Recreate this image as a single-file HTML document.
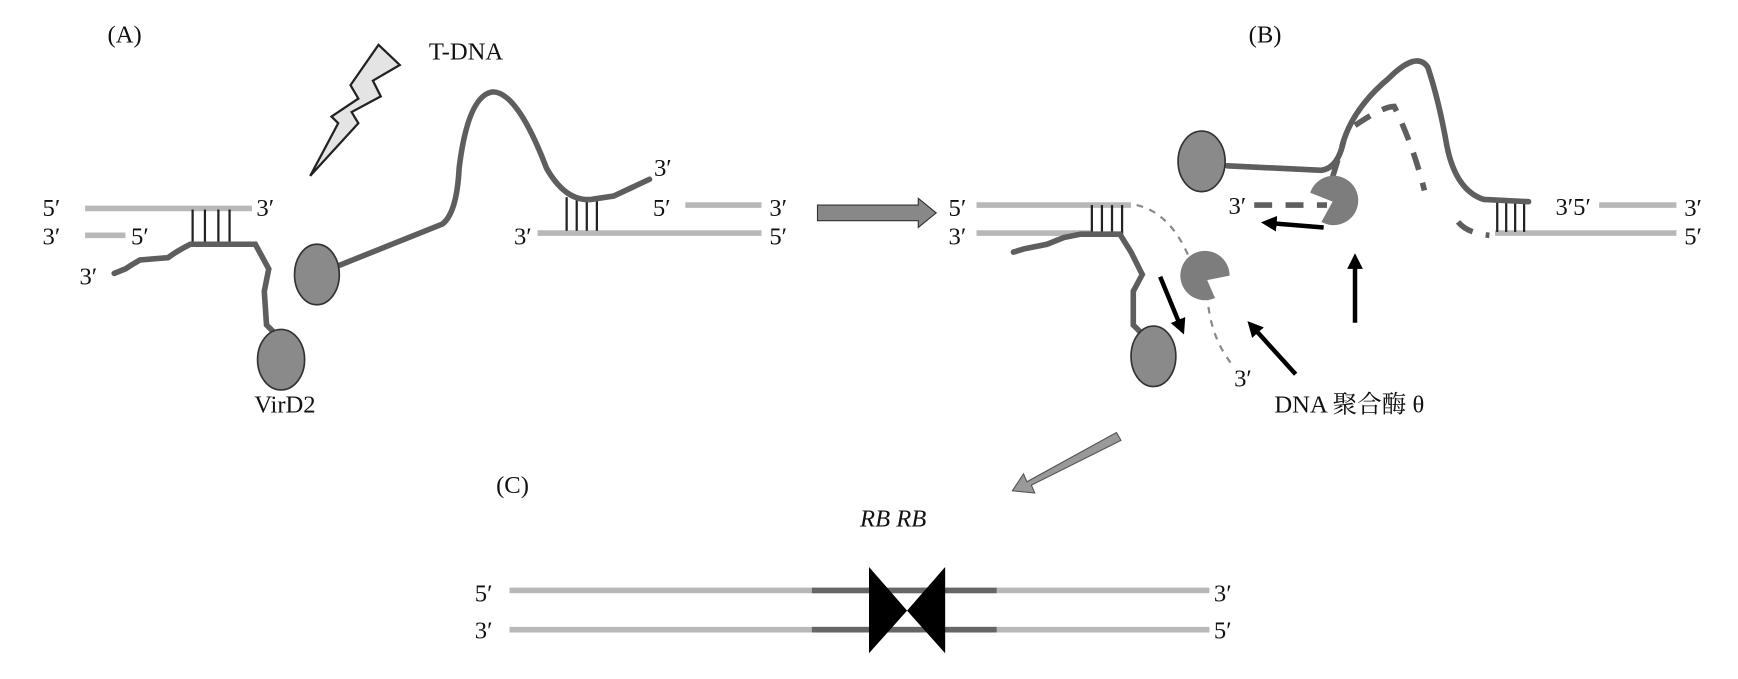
<!DOCTYPE html>
<html><head><meta charset="utf-8"><style>
html,body{margin:0;padding:0;background:#fff;}
svg{display:block;}
text{font-family:"Liberation Serif","Noto Serif CJK SC",serif;fill:#111;}
</style></head><body>
<svg width="1738" height="679" viewBox="0 0 1552 606" preserveAspectRatio="none" xmlns="http://www.w3.org/2000/svg">
<defs>
<marker id="ah" markerWidth="3.5" markerHeight="3.5" refX="2" refY="1.75" orient="auto" markerUnits="strokeWidth"><path d="M0,0 L3.5,1.75 L0,3.5 z" fill="#000"/></marker>
</defs>
<rect width="1552" height="606" fill="#fff"/>
<g font-size="22">
<text x="96" y="38">(A)</text>
<text x="1115" y="38">(B)</text>
<text x="443" y="440">(C)</text>
<text x="383" y="53">T-DNA</text>
<text x="227" y="368">VirD2</text>
<text x="1138" y="368">DNA 聚合酶 θ</text>
</g>
<!-- lightning -->
<path d="M338,40 L357,58 L333,72 L340,86 L314,100 L320,110 L277,157 L302,110 L296,104 L320,88 L313,76 Z" fill="#e4e4e4" stroke="#222" stroke-width="2"/>
<g font-size="22">
<text x="38" y="193">5′</text><text x="229" y="193">3′</text>
<text x="38" y="218">3′</text><text x="117" y="218">5′</text>
<text x="71" y="254">3′</text>
<text x="584" y="157">3′</text>
<text x="583" y="193">5′</text><text x="687" y="193">3′</text>
<text x="459" y="218">3′</text><text x="687" y="218">5′</text>
<text x="847" y="193">5′</text><text x="847" y="218">3′</text>
<text x="1097" y="191">3′</text>
<text x="1102" y="345">3′</text>
<text x="1389" y="192">3′5′</text>
<text x="1504" y="193">3′</text><text x="1504" y="218">5′</text>
<text x="424" y="537">5′</text><text x="1084" y="537">3′</text>
<text x="424" y="570">3′</text><text x="1084" y="570">5′</text>
<text x="768" y="470" font-style="italic">RB RB</text>
</g>
<g stroke="#b8b8b8" stroke-width="5" fill="none">
<line x1="76" y1="186" x2="225" y2="186"/>
<line x1="76" y1="210" x2="112" y2="210"/>
<line x1="612" y1="183" x2="680" y2="183"/>
<line x1="480" y1="208" x2="680" y2="208"/>
<line x1="872" y1="183" x2="1010" y2="183"/>
<line x1="872" y1="208" x2="975" y2="208"/>
<line x1="1428" y1="183" x2="1497" y2="183"/>
<line x1="1335" y1="208" x2="1497" y2="208"/>
<line x1="455" y1="527" x2="1080" y2="527"/>
<line x1="455" y1="562" x2="1080" y2="562"/>
</g>
<g stroke="#666" stroke-width="5"><line x1="725" y1="527" x2="890" y2="527"/><line x1="725" y1="562" x2="890" y2="562"/></g>
<!-- rungs -->
<g stroke="#222" stroke-width="2">
<line x1="172" y1="187" x2="172" y2="217"/><line x1="183" y1="187" x2="183" y2="217"/><line x1="195" y1="187" x2="195" y2="217"/><line x1="205" y1="187" x2="205" y2="217"/>
<line x1="506" y1="176" x2="506" y2="206"/><line x1="515" y1="176" x2="515" y2="206"/><line x1="524" y1="176" x2="524" y2="206"/><line x1="533" y1="176" x2="533" y2="206"/>
<line x1="975" y1="183" x2="975" y2="210"/><line x1="984" y1="183" x2="984" y2="210"/><line x1="993" y1="183" x2="993" y2="210"/><line x1="1002" y1="183" x2="1002" y2="210"/>
<line x1="1337" y1="180" x2="1337" y2="207"/><line x1="1345" y1="180" x2="1345" y2="207"/><line x1="1353" y1="180" x2="1353" y2="207"/><line x1="1361" y1="180" x2="1361" y2="207"/>
</g>
<g stroke="#5e5e5e" stroke-width="5" fill="none" stroke-linecap="round">
<path d="M102,244 L112,240 Q118,236 125,232 L150,230 Q158,224 170,218 L228,218 L240,240 L236,260 L238,290 L248,300"/>
<path d="M300,238 L395,200 Q408,190 410,150 Q418,85 440,82 Q462,82 488,150 Q505,180 528,178 L548,175 L580,160"/>
<path d="M905,225 L915,222 L935,218 L950,212 L965,209 L975,209 L1000,209 L1010,225 L1020,245 L1012,260 L1012,290 L1022,300"/>
<path d="M1096,148 L1180,152 Q1195,150 1200,125 Q1210,95 1240,70 Q1265,45 1275,60 Q1285,90 1292,130 Q1300,170 1325,178 L1365,180"/>
</g>
<g stroke="#5e5e5e" stroke-width="5" fill="none" stroke-dasharray="16,12">
<path d="M1120,183 L1185,183"/>
<path d="M1190,158 L1200,125"/>
<path d="M1210,112 Q1235,95 1245,95 Q1262,130 1272,170"/>
<path d="M1302,198 Q1310,208 1330,210"/>
</g>
<g stroke="#8a8a8a" stroke-width="2" fill="none" stroke-dasharray="6,6">
<path d="M1015,183 Q1045,190 1062,230"/>
<path d="M1078,262 Q1080,300 1100,325"/>
</g>
<g fill="#8a8a8a" stroke="#333" stroke-width="1.5">
<ellipse cx="251" cy="321" rx="21" ry="27"/>
<ellipse cx="283" cy="245" rx="20" ry="27"/>
<ellipse cx="1073" cy="144" rx="21" ry="27"/>
<ellipse cx="1030" cy="318" rx="20" ry="27"/>
</g>
<g fill="#7d7d7d">
<path d="M1190,180 L1170,172 A22,22 0 1 1 1180,198 Z"/>
<path d="M1078,250 L1085,266 A22,22 0 1 1 1098,246 Z"/>
</g>
<g stroke="#000" stroke-width="4" fill="none" marker-end="url(#ah)">
<line x1="1182" y1="203" x2="1132" y2="199"/>
<line x1="1210" y1="288" x2="1210" y2="232"/>
<line x1="1036" y1="247" x2="1055" y2="293"/>
<line x1="1157" y1="334" x2="1118" y2="291"/>
</g>
<path d="M730,183 L820,183 L820,177 L836,190 L820,203 L820,197 L730,197 Z" fill="#888" stroke="#333" stroke-width="1"/>
<path d="M997,386 L1001,393 L921,433 L924,440 L904,438 L914,423 L917,430 Z" fill="#999" stroke="#555" stroke-width="1"/>
<path d="M776,506 L810,545 L776,583 Z M844,506 L810,545 L844,583 Z" fill="#000"/>
</svg>
</body></html>
